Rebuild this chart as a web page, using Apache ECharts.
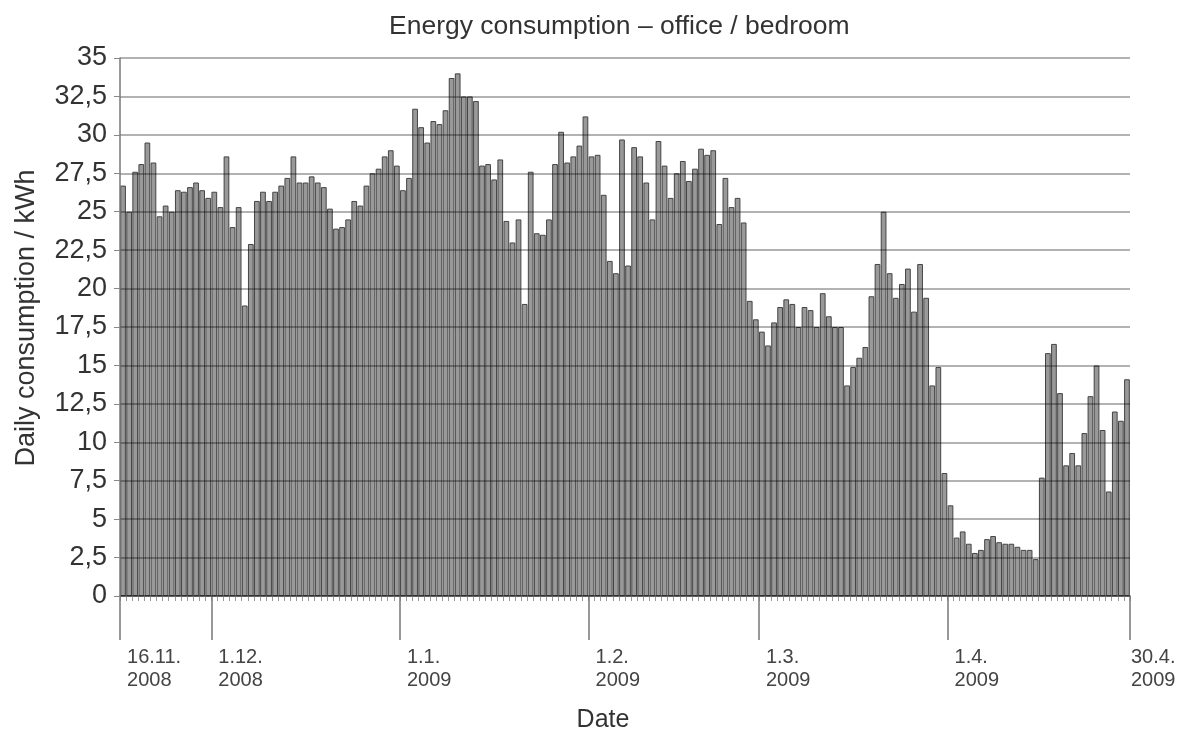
<!DOCTYPE html>
<html>
<head>
<meta charset="utf-8">
<title>Energy consumption – office / bedroom</title>
<script src="https://cdn.jsdelivr.net/npm/echarts@6/dist/echarts.min.js"></script>
<style>
  html, body { margin: 0; padding: 0; background: #fff; }
  #chart { width: 1188px; height: 738px; }
</style>
</head>
<body>
<div id="chart"></div>
<script>
// daily consumption in kWh, one array per month (16.11.2008 - 30.4.2009)
const novValues = [26.7, 25.0, 27.6, 28.1, 29.5, 28.2, 24.7, 25.4, 25.0, 26.4, 26.3, 26.6, 26.9, 26.4, 25.9];
const decValues = [26.3, 25.3, 28.6, 24.0, 25.3, 18.9, 22.9, 25.7, 26.3, 25.7, 26.3, 26.7, 27.2, 28.6, 26.9,
  26.9, 27.3, 26.9, 26.6, 25.2, 23.9, 24.0, 24.5, 25.7, 25.4, 26.7, 27.5, 27.8, 28.6, 29.0, 28.0];
const janValues = [26.4, 27.2, 31.7, 30.5, 29.5, 30.9, 30.7, 31.6, 33.7, 34.0, 32.5, 32.5, 32.2, 28.0, 28.1,
  27.1, 28.4, 24.4, 23.0, 24.5, 19.0, 27.6, 23.6, 23.5, 24.5, 28.1, 30.2, 28.2, 28.6, 29.3, 31.2];
const febValues = [28.6, 28.7, 26.1, 21.8, 21.0, 29.7, 21.5, 29.2, 28.6, 26.9, 24.5, 29.6, 28.0, 25.9,
  27.5, 28.3, 27.0, 27.8, 29.1, 28.7, 29.0, 24.2, 27.2, 25.3, 25.9, 24.3, 19.2, 18.0];
const marValues = [17.2, 16.3, 17.8, 18.8, 19.3, 19.0, 17.5, 18.8, 18.6, 17.5, 19.7, 18.2, 17.5, 17.5, 13.7,
  14.9, 15.5, 16.2, 19.5, 21.6, 25.0, 21.0, 19.4, 20.3, 21.3, 18.5, 21.6, 19.4, 13.7, 14.9, 8.0];
const aprValues = [5.9, 3.8, 4.2, 3.4, 2.8, 3.0, 3.7, 3.9, 3.5, 3.4, 3.4, 3.2, 3.0, 3.0, 2.4,
  7.7, 15.8, 16.4, 13.2, 8.5, 9.3, 8.5, 10.6, 13.0, 15.0, 10.8, 6.8, 12.0, 11.4, 14.1];

// dates that get a long tick and a label on the x axis
const tickDates = ['16.11.2008', '1.12.2008', '1.1.2009', '1.2.2009', '1.3.2009', '1.4.2009', '30.4.2009'];

const dailyValues = [].concat(novValues, decValues, janValues, febValues, marValues, aprValues);
const days = dailyValues.map(function (v, i) {
  const d = new Date(2008, 10, 16 + i);
  return d.getDate() + '.' + (d.getMonth() + 1) + '.' + d.getFullYear();
});

const font = 'Liberation Sans, Arial, sans-serif';

const chart = echarts.init(document.getElementById('chart'));
chart.setOption({
  backgroundColor: '#fff',
  animation: false,
  title: {
    text: 'Energy consumption – office / bedroom',
    left: 384,
    top: 8,
    textStyle: { fontFamily: font, fontSize: 26.5, fontWeight: 'normal', color: '#333' }
  },
  grid: { left: 120, right: 58, top: 58, bottom: 142 },
  xAxis: [
    {
      type: 'category',
      data: days,
      axisLine: { show: true, lineStyle: { color: '#666', width: 1.5 } },
      axisTick: { show: true, interval: 0, length: 5, lineStyle: { color: '#999' } },
      axisLabel: { show: false },
      name: 'Date',
      nameLocation: 'middle',
      nameGap: 112,
      nameTextStyle: { fontFamily: font, fontSize: 25, color: '#333', padding: [0, 44, 0, 0] }
    },
    {
      type: 'category',
      data: days,
      position: 'bottom',
      axisLine: { show: false },
      axisTick: {
        show: true,
        interval: function (i, v) { return tickDates.indexOf(v) >= 0 && i !== days.length - 1; },
        length: 44,
        lineStyle: { color: '#777', width: 1.5 }
      },
      axisLabel: {
        show: true,
        interval: function (i, v) { return tickDates.indexOf(v) >= 0; },
        formatter: function (v) {
          const k = v.lastIndexOf('.');
          return v.slice(0, k + 1) + '\n' + v.slice(k + 1);
        },
        align: 'left',
        padding: [0, 0, 0, 4],
        margin: 50,
        fontFamily: font,
        fontSize: 20,
        lineHeight: 23,
        color: '#444'
      }
    }
  ],
  yAxis: {
    type: 'value',
    min: 0,
    max: 35,
    interval: 2.5,
    z: 3,
    name: 'Daily consumption / kWh',
    nameLocation: 'middle',
    nameGap: 80,
    nameTextStyle: { fontFamily: font, fontSize: 27, color: '#333', padding: [0, 0, 0, 18] },
    axisLine: { show: true, lineStyle: { color: '#777', width: 1.5 } },
    axisTick: { show: true, length: 6, lineStyle: { color: '#888' } },
    axisLabel: {
      margin: 13,
      fontFamily: font,
      fontSize: 27,
      color: '#333',
      formatter: function (v) { return String(v).replace('.', ','); }
    },
    splitLine: { lineStyle: { color: 'rgba(0,0,0,0.3)', width: 2 } }
  },
  series: [
    {
      name: 'Daily consumption',
      type: 'bar',
      data: dailyValues,
      barCategoryGap: '6%',
      itemStyle: { color: '#999', borderColor: '#444', borderWidth: 1 }
    }
  ]
});
</script>
</body>
</html>
